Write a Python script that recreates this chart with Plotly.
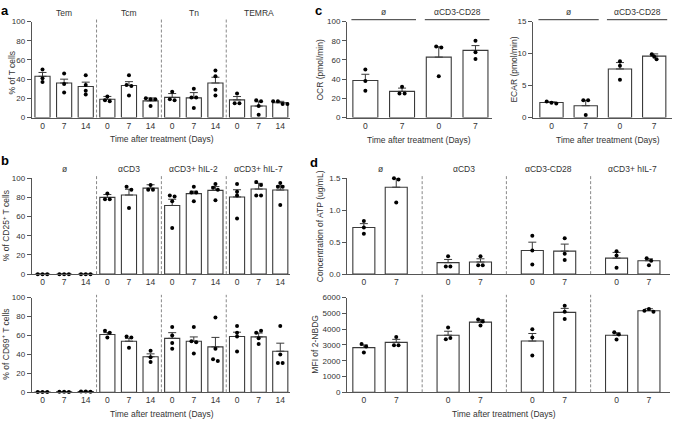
import plotly.graph_objects as go

W, H = 681, 425

# ---- panel a: T cell subsets ----
A_GROUPS = ["Tem", "Tcm", "Tn", "TEMRA"]
DAYS3 = ["0", "7", "14"]
A_MEAN = [43, 36, 32.4, 19, 33.4, 17.4, 21, 20.5, 36, 18.4, 12, 15.4]
A_SEM = [4, 4, 4.5, 3, 4, 3, 4, 5.5, 6, 3.5, 4.4, 1.5]
A_PTS = [[50, 41, 37], [46, 35, 26], [44, 34, 28, 24],
         [22, 18, 17], [44, 34, 33, 23], [20, 19, 19, 12],
         [27, 19, 18], [30, 21, 21, 10], [49, 43, 29, 23],
         [25, 15, 15], [18, 17, 12, 3], [17, 17, 14, 14]]

# ---- panel b: activation markers ----
B_GROUPS = ["ø", "αCD3", "αCD3+ hIL-2", "αCD3+ hIL-7"]
B25_MEAN = [0, 0, 0, 80, 82.5, 89.7, 71.6, 84, 87.3, 80.5, 88.7, 87.7]
B25_SEM = [0, 0, 0, 3, 6, 3.5, 6.5, 2.5, 4, 7.5, 6, 4.5]
B25_PTS = [[0, 0, 0], [0, 0, 0], [0, 0, 0],
           [84, 78, 78], [91, 88, 69], [93, 88, 88],
           [82, 81, 76, 48], [91, 85, 85, 76], [94, 90, 88, 77],
           [94, 86, 82, 58], [96, 93, 82, 82], [95, 91, 91, 72]]
B69_MEAN = [0.3, 0.5, 0.8, 61, 54, 37.6, 57, 54, 48, 59, 58.6, 43.4]
B69_SEM = [0.2, 0.2, 0.3, 2, 3, 3, 6, 4.5, 10, 4.5, 4, 8.5]
B69_PTS = [[0.3, 0.2, 0.4], [0.5, 0.6, 0.4], [0.8, 0.9, 0.7],
           [65, 63, 58], [59, 58, 47], [44, 37, 32],
           [69, 60, 52, 46], [69, 54, 53, 41], [79, 46, 35, 33],
           [70, 63, 59, 43], [63, 65, 57, 51], [70, 40, 31, 31]]

# ---- panel c: metabolism ----
C_GROUPS = ["ø", "αCD3-CD28"]
DAYS2 = ["0", "7"]
OCR_MEAN = [38.6, 27.3, 63, 70]
OCR_SEM = [6.5, 3.4, 10.7, 5]
OCR_PTS = [[50, 38, 28], [32, 25, 25], [74, 73, 43], [80, 68, 61]]
ECAR_MEAN = [2.36, 1.85, 7.6, 9.6]
ECAR_SEM = [0.1, 0.85, 1.0, 0.35]
ECAR_PTS = [[2.5, 2.3, 2.2], [2.7, 2.7, 0.4], [8.8, 8.1, 5.9], [9.9, 9.5, 9.1]]

# ---- panel d: ATP and glucose uptake ----
D_GROUPS = ["ø", "αCD3", "αCD3-CD28", "αCD3+ hIL-7"]
ATP_MEAN = [0.73, 1.36, 0.18, 0.19, 0.37, 0.36, 0.25, 0.21]
ATP_SEM = [0.06, 0.14, 0.05, 0.05, 0.13, 0.11, 0.09, 0.03]
ATP_PTS = [[0.83, 0.73, 0.63], [1.5, 1.48, 1.12], [0.28, 0.12, 0.12], [0.28, 0.14, 0.14],
           [0.6, 0.37, 0.15], [0.56, 0.32, 0.22], [0.36, 0.29, 0.1], [0.25, 0.21, 0.14]]
MFI_MEAN = [2834, 3166, 3620, 4448, 3248, 5069, 3620, 5172]
MFI_SEM = [170, 190, 250, 170, 480, 250, 150, 125]
MFI_PTS = [[3060, 2900, 2520], [3500, 2980, 2980], [4100, 3370, 3450], [4610, 4490, 4240],
           [3990, 3480, 2340], [5480, 5110, 4650], [3810, 3660, 3350], [5170, 5280, 5110]]

FONT = "Arial, Liberation Sans, sans-serif"
FS = 8.5
TXT = "#333"
AX = "#555"


def px_x(a, b):
    return [a / W, b / W]


def px_y(top, bottom):
    return [1 - bottom / H, 1 - top / H]


def jitter(vals, span, step):
    # side-by-side offsets for dots with near-equal values
    offs = []
    for i, v in enumerate(vals):
        close = [j for j, w in enumerate(vals) if abs(w - v) < 0.035 * span]
        if len(close) > 1:
            k = close.index(i)
            offs.append((k - (len(close) - 1) / 2) * step)
        else:
            offs.append(0)
    return offs


fig = go.Figure()


def add_panel(n, xs, means, sems, pts, span, step, width):
    xa, ya = ("x", "y") if n == 1 else (f"x{n}", f"y{n}")
    fig.add_trace(go.Bar(
        x=xs, y=means, width=width, xaxis=xa, yaxis=ya,
        marker=dict(color="white", line=dict(color="#3a3a3a", width=1.1)),
        error_y=dict(type="data", array=sems, arrayminus=[0] * len(sems),
                     symmetric=False, color="#3a3a3a", thickness=1, width=4),
        showlegend=False, hoverinfo="skip",
    ))
    dx, dy = [], []
    for x, p in zip(xs, pts):
        for o, v in zip(jitter(p, span, step), p):
            dx.append(x + o)
            dy.append(v)
    fig.add_trace(go.Scatter(
        x=dx, y=dy, mode="markers", xaxis=xa, yaxis=ya, cliponaxis=False,
        marker=dict(color="black", size=4), showlegend=False, hoverinfo="skip",
    ))


pos12 = list(range(12))
add_panel(1, pos12, A_MEAN, A_SEM, A_PTS, 100, 0.22, 0.7)
add_panel(2, pos12, B25_MEAN, B25_SEM, B25_PTS, 100, 0.22, 0.7)
add_panel(3, pos12, B69_MEAN, B69_SEM, B69_PTS, 100, 0.22, 0.7)
pos4 = list(range(4))
add_panel(4, pos4, OCR_MEAN, OCR_SEM, OCR_PTS, 100, 0.14, 0.68)
add_panel(5, pos4, ECAR_MEAN, ECAR_SEM, ECAR_PTS, 15, 0.14, 0.68)
GSTEP = 2.6
pos8 = [g * GSTEP + i for g in range(4) for i in range(2)]
add_panel(6, pos8, ATP_MEAN, ATP_SEM, ATP_PTS, 1.5, 0.14, 0.68)
add_panel(7, pos8, MFI_MEAN, MFI_SEM, MFI_PTS, 6000, 0.14, 0.68)

tickfont = dict(family=FONT, size=8, color=TXT)


def xaxis(dom, rng, vals, text, anchor):
    return dict(domain=dom, range=rng, tickvals=vals, ticktext=text, anchor=anchor,
                showline=True, linecolor=AX, linewidth=1, ticks="", showgrid=False,
                zeroline=False, tickfont=dict(family=FONT, size=FS, color=TXT),
                fixedrange=True)


def yaxis(dom, rng, dtick, anchor, fmt=None):
    d = dict(domain=dom, range=rng, dtick=dtick, anchor=anchor, showline=True,
             linecolor=AX, linewidth=1, ticks="outside", ticklen=4, tickcolor=AX,
             showgrid=False, zeroline=False, tickfont=tickfont, fixedrange=True)
    if fmt:
        d["tickformat"] = fmt
    return d


lab12 = DAYS3 * 4
lab4 = DAYS2 * 2
lab8 = DAYS2 * 4
rng12 = [-0.5, 11.45]

fig.update_layout(
    xaxis=xaxis(px_x(31.7, 290), rng12, pos12, lab12, "y"),
    yaxis=yaxis(px_y(18, 116), [0, 100], 20, "x"),
    xaxis2=xaxis(px_x(31.7, 290), rng12, pos12, lab12, "y2"),
    yaxis2=yaxis(px_y(178, 276), [0, 100], 20, "x2"),
    xaxis3=xaxis(px_x(31.7, 290), rng12, pos12, lab12, "y3"),
    yaxis3=yaxis(px_y(300, 396.7), [0, 100], 20, "x3"),
    xaxis4=xaxis(px_x(347, 492), [-0.5, 3.45], pos4, lab4, "y4"),
    yaxis4=yaxis(px_y(18, 116), [0, 100], 20, "x4"),
    xaxis5=xaxis(px_x(533, 672), [-0.54, 3.52], pos4, lab4, "y5"),
    yaxis5=yaxis(px_y(18, 116), [0, 15], 5, "x5"),
    xaxis6=xaxis(px_x(347, 670), [-0.52, 9.45], pos8, lab8, "y6"),
    yaxis6=yaxis(px_y(178, 276), [0, 1.5], 0.5, "x6", ".1f"),
    xaxis7=xaxis(px_x(347, 670), [-0.52, 9.45], pos8, lab8, "y7"),
    yaxis7=yaxis(px_y(300, 396.7), [0, 6000], 1000, "x7"),
    width=W, height=H,
    margin=dict(l=0, r=0, t=0, b=0),
    paper_bgcolor="white", plot_bgcolor="white",
    font=dict(family=FONT, size=FS, color=TXT),
    showlegend=False,
)

sep = dict(color="#888", width=1, dash="3px,2px")
# dashed group separators
for n in (1, 2, 3):
    xa = "x" if n == 1 else f"x{n}"
    ya = "y" if n == 1 else f"y{n}"
    for b in (2.5, 5.5, 8.5):
        fig.add_shape(type="line", xref=xa, yref=f"{ya} domain", x0=b, x1=b,
                      y0=0, y1=1.03, line=sep)
for n in (6, 7):
    for g in range(3):
        b = g * GSTEP + 1 + (GSTEP - 1) / 2
        fig.add_shape(type="line", xref=f"x{n}", yref=f"y{n} domain", x0=b, x1=b,
                      y0=0, y1=1.03, line=sep)

# group headers
hdr = dict(showarrow=False, font=dict(size=FS), xanchor="center", yanchor="middle")
for g, name in enumerate(A_GROUPS):
    fig.add_annotation(x=g * 3 + 1, y=1.085, xref="x", yref="y domain", text=name, **hdr)
for g, name in enumerate(B_GROUPS):
    fig.add_annotation(x=g * 3 + 1, y=1.1, xref="x2", yref="y2 domain", text=name, **hdr)
for g, name in enumerate(D_GROUPS):
    fig.add_annotation(x=g * GSTEP + 0.5, y=1.1, xref="x6", yref="y6 domain", text=name,
                       **hdr)
for n in (4, 5):
    for g, name in enumerate(C_GROUPS):
        x0, x1 = g * 2 - 0.38, g * 2 + 1.38
        fig.add_shape(type="line", xref=f"x{n}", yref=f"y{n} domain", x0=x0, x1=x1,
                      y0=1.02, y1=1.02, line=dict(color="#333", width=1))
        fig.add_annotation(x=g * 2 + 0.5, y=1.105, xref=f"x{n}", yref=f"y{n} domain",
                           text=name, **hdr)


def label(x, y, text, angle=0, size=FS, bold=False):
    fig.add_annotation(x=x / W, y=1 - y / H, xref="paper", yref="paper",
                       text=f"<b>{text}</b>" if bold else text, textangle=angle,
                       showarrow=False, xanchor="center", yanchor="middle",
                       font=dict(size=size, color="black" if bold else TXT))


XT = "Time after treatment (Days)"
label(162, 138, XT)
label(419, 139, XT)
label(608, 139, XT)
label(162, 419, XT)
label(504, 419, XT)

label(12, 70, "% of T cells", -90)
label(6, 227, "% of CD25<sup>+</sup> T cells", -90)
label(6, 348, "% of CD69<sup>+</sup> T cells", -90)
label(320, 67, "OCR (pmol/min)", -90)
label(514, 67, "ECAR (pmol/min)", -90)
label(320, 227, "Concentration of ATP (ug/mL)", -90)
label(315, 348, "MFI of 2-NBDG", -90)

label(5, 7, "a", size=13, bold=True)
label(5, 160, "b", size=13, bold=True)
label(318, 7, "c", size=13, bold=True)
label(314, 162, "d", size=13, bold=True)

fig.write_html("out.html", config={"displayModeBar": False},
               post_script="document.body.style.margin='0px';")
